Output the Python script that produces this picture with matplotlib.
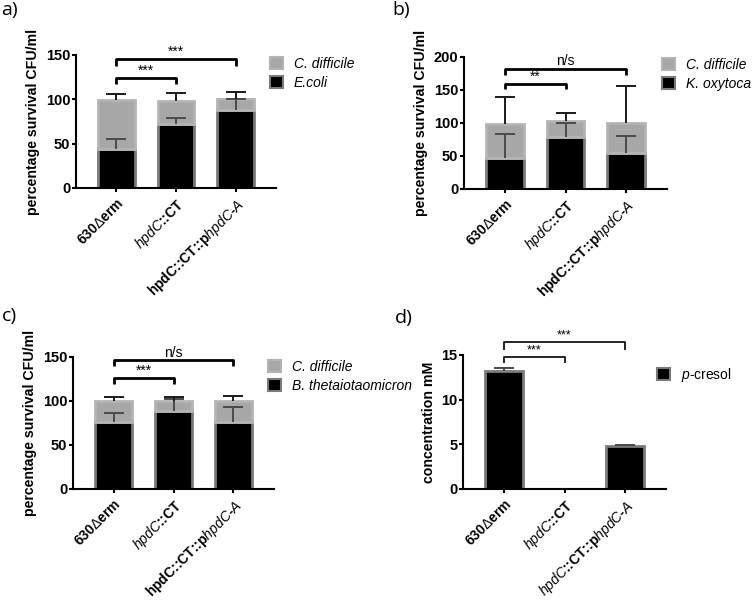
import matplotlib
matplotlib.use("Agg")
import matplotlib.pyplot as plt
from matplotlib.patches import Patch
import numpy as np

plt.rcParams['font.family'] = ['Liberation Sans', 'DejaVu Sans']
plt.rcParams['mathtext.fontset'] = 'custom'
plt.rcParams['mathtext.rm'] = 'Liberation Sans:bold'
plt.rcParams['mathtext.bf'] = 'Liberation Sans:bold'
plt.rcParams['mathtext.it'] = 'Liberation Sans:italic'
plt.rcParams['mathtext.sf'] = 'Liberation Sans'

# ---------------- data ----------------
labels_abc = [r'$\text{630}\mathsf{\Delta}\text{erm}$',
              r'$\mathit{hpdC}\text{::CT}$',
              r'$\text{hpdC::CT::p}\mathit{hpdC}\text{-}\mathit{A}$']
labels_d = [r'$\text{630}\mathsf{\Delta}\text{erm}$',
            r'$\mathit{hpdC}\text{::CT}$',
            r'$\mathit{hpdC}\text{::CT::p}\mathit{hpdC}\text{-}\mathit{A}$']

# panel a
ecoli = [44.5, 72.0, 87.5]
ecoli_err = [11.0, 7.0, 13.0]
cdiff_a = [55.0, 26.5, 12.5]
cdiff_a_err = [7.0, 8.5, 8.0]
# panel b
koxy = [47.0, 78.0, 55.0]
koxy_err = [35.5, 22.0, 25.0]
cdiff_b = [51.0, 24.5, 45.5]
cdiff_b_err = [40.5, 13.0, 54.5]
# panel c
btheta = [76.5, 88.5, 76.5]
btheta_err = [10.0, 14.0, 16.5]
cdiff_c = [23.5, 11.5, 23.5]
cdiff_c_err = [4.5, 4.0, 5.8]
# panel d
pcresol = [13.25, 0.0, 4.85]
pcresol_err = [0.3, 0.0, 0.07]

sig_a = [(0, 1, '***', 123.6, 117.0), (0, 2, '***', 145.0, 137.6)]
sig_b = [(0, 1, '**', 158.7, 150.6), (0, 2, 'n/s', 181.4, 172.8)]
sig_c = [(0, 1, '***', 125.4, 119.0), (0, 2, 'n/s', 146.0, 140.0)]
sig_d = [(0, 1, '***', 14.75, 14.07), (0, 2, '***', 16.4, 15.56)]

W, H = 752, 601
fig = plt.figure(figsize=(W / 100, H / 100), dpi=100)


def axes_px(x0, x1, y0, y1):
    return fig.add_axes([x0 / W, 1 - y1 / H, (x1 - x0) / W, (y1 - y0) / H])


BLACK_EDGE = '#7a7a7a'
GREY_FACE = '#a7a7a7'
GREY_EDGE = '#b4b4b4'
BW = 0.62
CAPW = 14.5  # cap marker width in points


def style_axes(ax, ymax, yticks, labels, ylabel):
    ax.set_xlim(-0.68, 2.68)
    ax.set_ylim(0, ymax)
    ax.set_yticks(yticks)
    ax.set_yticklabels([str(t) for t in yticks], fontweight='bold', fontsize=10.5)
    ax.set_xticks([0, 1, 2])
    ax.set_xticklabels(labels, rotation=45, ha='right', rotation_mode='anchor', fontsize=10)
    ax.tick_params(axis='both', length=3, width=1.5, direction='out')
    ax.tick_params(axis='y', pad=1)
    ax.tick_params(axis='x', pad=3)
    for s in ['top', 'right']:
        ax.spines[s].set_visible(False)
    for s in ['left', 'bottom']:
        ax.spines[s].set_linewidth(1.5)
    ax.set_ylabel(ylabel, fontweight='bold', fontsize=10.2, labelpad=4)


def brackets(ax, sigs, lw=2.0, fs=10):
    for i, j, txt, y, ylow in sigs:
        ax.plot([i, i, j, j], [ylow, y, y, ylow], color='black', lw=lw,
                clip_on=False, solid_capstyle='butt')
        ax.annotate(txt, xy=((i + j) / 2, y), xytext=(0, 0.5), textcoords='offset points',
                    ha='center', va='bottom', fontsize=fs, annotation_clip=False)


def upper_err(ax, x, y, err, color):
    y = np.asarray(y, dtype=float)
    err = np.asarray(err, dtype=float)
    ax.errorbar(x, y, yerr=[np.zeros(len(y)), err], fmt='none', ecolor=color,
                elinewidth=1.4, capsize=0, zorder=3)
    ax.plot(x, y + err, linestyle='none', marker='_', markersize=CAPW,
            markeredgewidth=1.4, color=color, zorder=3)


def stacked(ax, bottom, bottom_err, top, top_err):
    x = np.arange(3)
    bottom = np.array(bottom)
    top = np.array(top)
    ax.bar(x, bottom, width=BW, color='black', edgecolor=BLACK_EDGE, linewidth=2, zorder=2)
    ax.bar(x, top, bottom=bottom, width=BW, color=GREY_FACE, edgecolor=GREY_EDGE,
           linewidth=2, zorder=2)
    upper_err(ax, x, bottom, bottom_err, '#4a4a4a')
    upper_err(ax, x, bottom + top, top_err, '#1a1a1a')


def legend(ax, handles, names, x, ytop, italic=True):
    ax.legend(handles, names, loc='upper left', bbox_to_anchor=(x / W, 1 - ytop / H),
              bbox_transform=fig.transFigure, frameon=False, borderpad=0, borderaxespad=0,
              handlelength=0.9, handleheight=0.9, handletextpad=0.8, labelspacing=0.35,
              prop={'family': 'Liberation Sans', 'style': 'italic' if italic else 'normal',
                    'size': 10})


h_grey = Patch(facecolor=GREY_FACE, edgecolor=GREY_EDGE, linewidth=1.5)
h_black = Patch(facecolor='black', edgecolor=BLACK_EDGE, linewidth=1.5)

ylab = 'percentage survival CFU/ml'

# ---- a ----
ax = axes_px(76, 276, 55, 188)
stacked(ax, ecoli, ecoli_err, cdiff_a, cdiff_a_err)
style_axes(ax, 150, [0, 50, 100, 150], labels_abc, ylab)
brackets(ax, sig_a)
legend(ax, [h_grey, h_black], ['C. difficile', 'E.coli'], 270, 57)

# ---- b ----
ax = axes_px(464, 667, 56.7, 189)
stacked(ax, koxy, koxy_err, cdiff_b, cdiff_b_err)
style_axes(ax, 200, [0, 50, 100, 150, 200], labels_abc, ylab)
brackets(ax, sig_b)
legend(ax, [h_grey, h_black], ['C. difficile', 'K. oxytoca'], 662, 58)

# ---- c ----
ax = axes_px(73, 274, 356.7, 489)
stacked(ax, btheta, btheta_err, cdiff_c, cdiff_c_err)
style_axes(ax, 150, [0, 50, 100, 150], labels_abc, ylab)
brackets(ax, sig_c)
legend(ax, [h_grey, h_black], ['C. difficile', 'B. thetaiotaomicron'], 268, 360)

# ---- d ----
ax = axes_px(463, 666, 355, 489)
x = np.arange(3)
ax.bar(x, pcresol, width=BW, color='black', edgecolor=BLACK_EDGE, linewidth=2, zorder=2)
upper_err(ax, x[[0, 2]], np.array(pcresol)[[0, 2]], np.array(pcresol_err)[[0, 2]], '#4a4a4a')
style_axes(ax, 15, [0, 5, 10, 15], labels_d, 'concentration mM')
brackets(ax, sig_d, lw=1.2, fs=9)
legend(ax, [h_black], [r'$\mathit{p}$-cresol'], 657, 366, italic=False)

# panel letters
for txt, px, py in [('a)', 1, 1), ('b)', 392, 1), ('c)', 2, 307), ('d)', 395, 309)]:
    fig.text(px / W, 1 - py / H, txt, ha='left', va='top', fontsize=14,
             family=['Open Sans', 'DejaVu Sans'])

fig.savefig('out.png', dpi=100)
